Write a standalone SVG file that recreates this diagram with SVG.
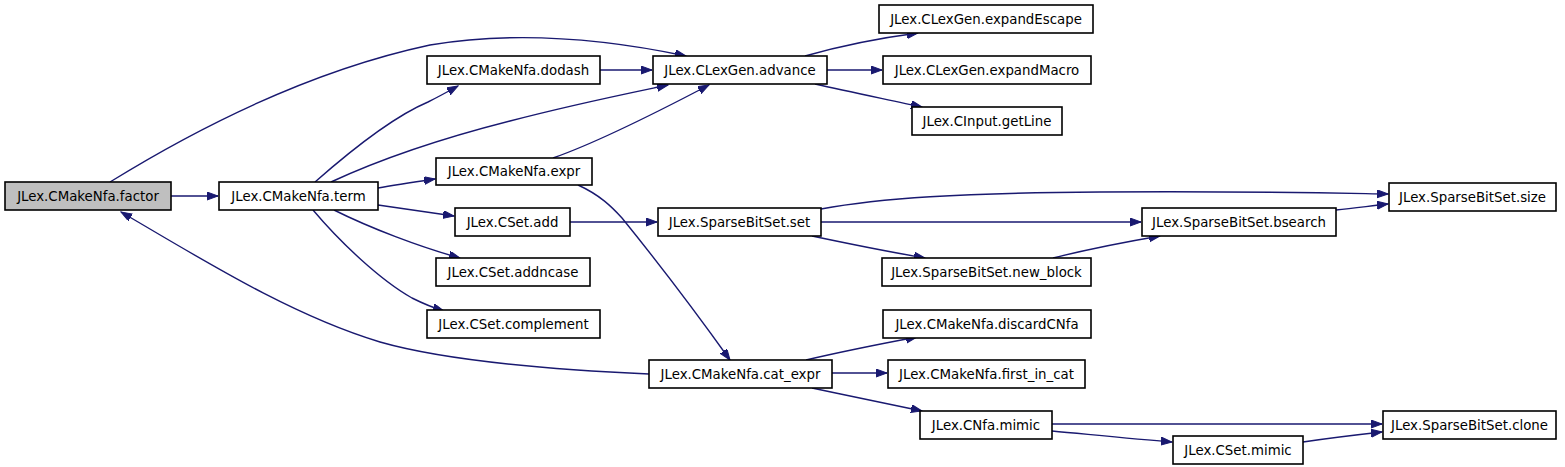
<svg xmlns="http://www.w3.org/2000/svg" width="1565" height="467" viewBox="0 0 1565 467">
<style>
.n rect{fill:#fff;stroke:#000;stroke-width:1.6}
.n text{font-family:"DejaVu Sans","Liberation Sans",sans-serif;font-size:13.33px;fill:#000;text-anchor:middle}
#edges path{fill:none;stroke:#191970;stroke-width:1.4;marker-end:url(#ah)}
</style>
<defs>
<marker id="ah" markerUnits="userSpaceOnUse" markerWidth="12" markerHeight="10" refX="11" refY="4" orient="auto">
<path d="M0,0 L11,4 L0,8 z" fill="#191970" stroke="#191970" stroke-width="1"/>
</marker>
</defs>
<rect width="1565" height="467" fill="#fff"/>
<g id="edges">
<path d="M171,196 L218,196"/>
<path d="M110,182 C170,145 290,75 430,45 C520,30 610,40 686,56"/>
<path d="M649,374 C560,370 450,362 380,342 C290,315 200,258 121,212"/>
<path d="M315,182 C340,160 390,118 428,102 C440,96 449,91 458,86"/>
<path d="M331,182 C385,157 455,135 510,121 C575,104 630,93 668,85"/>
<path d="M378,188 C395,185 415,182 435,179"/>
<path d="M378,205 C400,208 425,212 454,216"/>
<path d="M334,210 C370,228 420,247 460,258"/>
<path d="M313,210 C340,242 380,280 412,298 C424,304 434,308 444,311"/>
<path d="M600,70 L652,70"/>
<path d="M553,158 C590,145 650,116 709,85"/>
<path d="M578,185 C600,195 612,207 622,218 C652,255 700,318 730,360"/>
<path d="M805,56 C840,46 880,38 918,33"/>
<path d="M827,70 L882,70"/>
<path d="M815,84 C850,92 890,100 922,107"/>
<path d="M570,222 L657,222"/>
<path d="M821,209 C880,198 960,193 1100,192 C1250,191 1330,193 1388,194"/>
<path d="M821,222 L1141,222"/>
<path d="M812,236 C850,244 890,252 925,258"/>
<path d="M1053,258 C1085,250 1125,242 1160,236"/>
<path d="M1336,210 C1355,208 1370,206 1388,204"/>
<path d="M806,360 C840,352 880,344 917,337"/>
<path d="M832,373 L887,373"/>
<path d="M812,388 C850,396 890,404 922,411"/>
<path d="M1052,424 L1382,424"/>
<path d="M1052,431 C1095,435 1135,439 1172,442"/>
<path d="M1303,442 C1330,438 1355,435 1382,432"/>
</g>
<g id="factor" class="n"><rect x="5" y="182" width="166" height="28" style="fill:#bfbfbf"/><text x="88" y="201">JLex.CMakeNfa.factor</text></g>
<g id="term" class="n"><rect x="219" y="182" width="159" height="28"/><text x="298.5" y="201">JLex.CMakeNfa.term</text></g>
<g id="dodash" class="n"><rect x="427" y="56" width="173" height="28"/><text x="513.5" y="75">JLex.CMakeNfa.dodash</text></g>
<g id="advance" class="n"><rect x="653" y="56" width="174" height="28"/><text x="740" y="75">JLex.CLexGen.advance</text></g>
<g id="expr" class="n"><rect x="436" y="158" width="156" height="27"/><text x="514" y="176">JLex.CMakeNfa.expr</text></g>
<g id="expandEscape" class="n"><rect x="879" y="5" width="214" height="28"/><text x="986" y="24">JLex.CLexGen.expandEscape</text></g>
<g id="expandMacro" class="n"><rect x="883" y="56" width="208" height="28"/><text x="987" y="75">JLex.CLexGen.expandMacro</text></g>
<g id="getLine" class="n"><rect x="912" y="107" width="150" height="28"/><text x="987" y="126">JLex.CInput.getLine</text></g>
<g id="add" class="n"><rect x="455" y="208" width="115" height="28"/><text x="512.5" y="227">JLex.CSet.add</text></g>
<g id="addncase" class="n"><rect x="436" y="258" width="154" height="28"/><text x="513" y="277">JLex.CSet.addncase</text></g>
<g id="complement" class="n"><rect x="427" y="310" width="173" height="28"/><text x="513.5" y="329">JLex.CSet.complement</text></g>
<g id="set" class="n"><rect x="658" y="208" width="163" height="28"/><text x="739.5" y="227">JLex.SparseBitSet.set</text></g>
<g id="new_block" class="n"><rect x="882" y="258" width="209" height="28"/><text x="986.5" y="277">JLex.SparseBitSet.new_block</text></g>
<g id="bsearch" class="n"><rect x="1142" y="208" width="194" height="28"/><text x="1239" y="227">JLex.SparseBitSet.bsearch</text></g>
<g id="size" class="n"><rect x="1389" y="183" width="167" height="28"/><text x="1472.5" y="202">JLex.SparseBitSet.size</text></g>
<g id="cat_expr" class="n"><rect x="649" y="360" width="183" height="28"/><text x="740.5" y="379">JLex.CMakeNfa.cat_expr</text></g>
<g id="discardCNfa" class="n"><rect x="883" y="310" width="208" height="28"/><text x="987" y="329">JLex.CMakeNfa.discardCNfa</text></g>
<g id="first_in_cat" class="n"><rect x="888" y="360" width="197" height="28"/><text x="986.5" y="379">JLex.CMakeNfa.first_in_cat</text></g>
<g id="cnfa_mimic" class="n"><rect x="920" y="411" width="132" height="28"/><text x="986" y="430">JLex.CNfa.mimic</text></g>
<g id="cset_mimic" class="n"><rect x="1173" y="436" width="130" height="28"/><text x="1238" y="455">JLex.CSet.mimic</text></g>
<g id="clone" class="n"><rect x="1383" y="411" width="173" height="28"/><text x="1469.5" y="430">JLex.SparseBitSet.clone</text></g>
</svg>
